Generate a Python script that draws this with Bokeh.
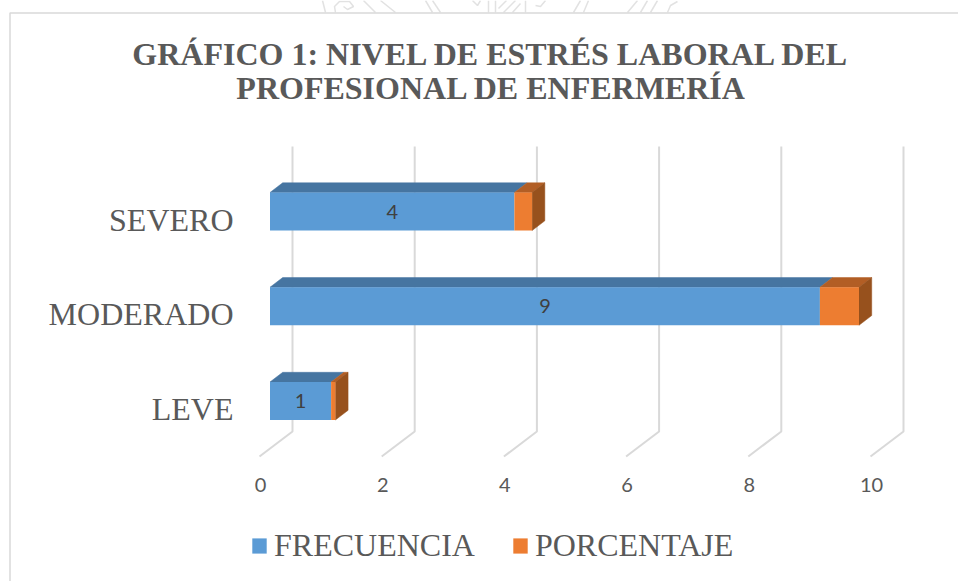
from bokeh.plotting import figure
from bokeh.models import (Range1d, LinearAxis, FixedTicker, Legend, LegendItem, Label,
                          ColumnDataSource)
from bokeh.core.properties import value
from bokeh.embed import file_html
from bokeh.resources import INLINE

# ---- data
categories = ["LEVE", "MODERADO", "SEVERO"]
frecuencia = [1, 9, 4]
porcentaje = [0.07, 0.64, 0.29]
x_ticks = [0, 2, 4, 6, 8, 10]
title_text = "GRÁFICO 1: NIVEL DE ESTRÉS LABORAL DEL\nPROFESIONAL DE ENFERMERÍA"
series_names = ["FRECUENCIA", "PORCENTAJE"]

# ---- style
W, H = 958, 581
PX_X = 61.1     # pixels per value unit
PX_Y = 94.75    # pixels per category step
X0 = 269.5      # canvas x of value 0 (front plane of the bars)
Y0 = 400.5      # canvas y of category 0
GRAY = "#595959"
GRID = "#d9d9d9"
BLUE, BLUE_TOP = "#5b9bd5", "#4675a1"
ORANGE, ORANGE_TOP, ORANGE_SIDE = "#ed7d31", "#b25e25", "#97511d"
DX, DY = 12.7 / PX_X, 9.7 / PX_Y   # bar depth
HALF = 19.0 / PX_Y                 # half bar height


def xr(px):
    return (px - X0) / PX_X


def yr(px):
    return (Y0 - px) / PX_Y


p = figure(width=W, height=H, output_backend="svg", toolbar_location=None,
           x_range=Range1d(xr(0), xr(W)), y_range=Range1d(yr(H), yr(0)),
           x_axis_location=None, y_axis_location=None, min_border=0,
           background_fill_color="white", border_fill_color="white")
p.grid.visible = False
p.outline_line_color = None

# faint page watermark showing above the chart frame
mark = [
    [(322, 0), (325, 12)],
    [(335, 12), (334, 6), (339, 1), (349, 1), (353, 6), (347, 9), (343, 6)],
    [(363, 0), (375, 12)],
    [(380, 0), (395, 12)],
    [(425, 0), (432, 12)],
    [(432, 0), (440, 12)],
    [(472, 0), (477, 5), (480, 0)],
    [(488, 0), (488, 12)],
    [(495, 0), (495, 12)],
    [(498, 8), (506, 0)],
    [(503, 12), (515, 0)],
    [(512, 12), (520, 3)],
    [(525, 0), (525, 12)],
    [(535, 5), (540, 6), (545, 0)],
    [(573, 12), (580, 0)],
    [(583, 12), (588, 0)],
    [(627, 12), (637, 0)],
    [(640, 12), (647, 0)],
    [(650, 12), (657, 0)],
    [(667, 12), (670, 5), (677, 1)],
]
p.multi_line([[xr(a) for a, _ in s] for s in mark], [[yr(b) for _, b in s] for s in mark],
             line_color="#e2e2e2", line_width=1.5)

# chart frame (top and left edges)
p.line([xr(9.5), xr(9.5), xr(W)], [yr(H), yr(12.5), yr(12.5)], line_color=GRID, line_width=1.5)

# floor / wall gridlines
gx, gy = [], []
for t in x_ticks:
    gx.append([t + 22.5 / PX_X, t + 22.5 / PX_X, t - 10.5 / PX_X])
    gy.append([yr(146), yr(431), yr(456)])
p.multi_line(gx, gy, line_color=GRID, line_width=2)

# 3-D faces of the bars
ys = list(range(len(categories)))
ends = [a + b for a, b in zip(frecuencia, porcentaje)]


def top_face(left, right, y):
    return ([left, left + DX, right + DX, right],
            [y + HALF, y + HALF + DY, y + HALF + DY, y + HALF])


def side_face(right, y):
    return ([right, right + DX, right + DX, right],
            [y + HALF, y + HALF + DY, y - HALF + DY, y - HALF])


for left_vals, right_vals, color in ((None, frecuencia, BLUE_TOP), (frecuencia, ends, ORANGE_TOP)):
    xs_, ys_ = [], []
    for i, y in enumerate(ys):
        a, b = top_face(0 if left_vals is None else left_vals[i], right_vals[i], y)
        xs_.append(a)
        ys_.append(b)
    p.patches(xs_, ys_, fill_color=color, line_color=color, line_width=0.5)

side_x, side_y = [], []
for i, y in enumerate(ys):
    a, b = side_face(ends[i], y)
    side_x.append(a)
    side_y.append(b)
p.patches(side_x, side_y, fill_color=ORANGE_SIDE, line_color=ORANGE_SIDE, line_width=0.5)

src = ColumnDataSource(dict(y=ys, f=frecuencia, e=ends, mid=[v / 2 for v in frecuencia],
                            lab=[str(v) for v in frecuencia]))
r1 = p.hbar(y="y", left=0, right="f", height=2 * HALF, source=src, fill_color=BLUE, line_color=None)
r2 = p.hbar(y="y", left="f", right="e", height=2 * HALF, source=src, fill_color=ORANGE, line_color=None)

# data labels
p.text(x="mid", y="y", text="lab", source=src, text_font=value("Lato"), text_font_size="20px",
       text_color="#404040", text_align="center", text_baseline="middle")

# axes: placed inside the canvas with their own shifted ranges
p.extra_x_ranges["ticks"] = Range1d((0 - 260) / PX_X, (W - 260) / PX_X)
xaxis = LinearAxis(x_range_name="ticks", fixed_location=yr(471),
                   ticker=FixedTicker(ticks=x_ticks),
                   axis_line_color=None, major_tick_line_color=None, minor_tick_line_color=None,
                   major_label_text_font="Lato", major_label_text_font_size="20px",
                   major_label_text_color=GRAY, major_label_standoff=0)
p.add_layout(xaxis, "below")

p.extra_y_ranges["cats"] = Range1d((408 - H) / 94.5, 408 / 94.5)
yaxis = LinearAxis(y_range_name="cats", fixed_location=xr(239),
                   ticker=FixedTicker(ticks=ys),
                   major_label_overrides={i: c for i, c in enumerate(categories)},
                   axis_line_color=None, major_tick_line_color=None, minor_tick_line_color=None,
                   major_label_text_font="Liberation Serif", major_label_text_font_size="32px",
                   major_label_text_color=GRAY, major_label_standoff=0)
p.add_layout(yaxis, "left")

# title
p.add_layout(Label(x=491, y=H - 35, x_units="screen", y_units="screen", text=title_text,
                   text_font="Liberation Serif", text_font_style="bold", text_font_size="32px",
                   text_color=GRAY, text_align="center", text_baseline="top",
                   text_line_height=0.95))

# legend
legend = Legend(items=[LegendItem(label=series_names[0], renderers=[r1]),
                       LegendItem(label=series_names[1], renderers=[r2])],
                orientation="horizontal", location=(250, 17),
                label_text_font="Liberation Serif", label_text_font_size="32px",
                label_text_color=GRAY, glyph_width=18, glyph_height=19,
                label_standoff=6, spacing=36, padding=0, margin=0,
                border_line_color=None, background_fill_alpha=0)
p.add_layout(legend, "center")

open("out.html", "w").write(file_html(p, INLINE))
